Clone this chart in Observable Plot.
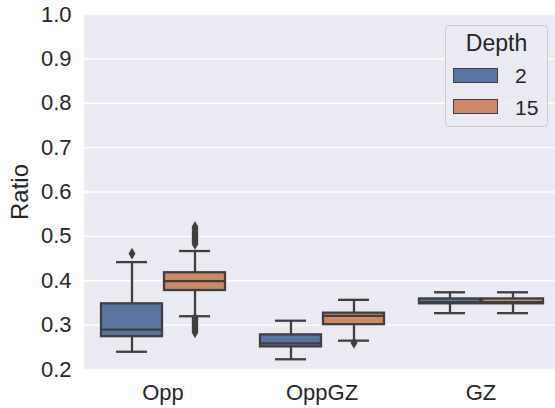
<!DOCTYPE html>
<html>
<head>
<meta charset="utf-8">
<script src="https://cdn.jsdelivr.net/npm/d3@7"></script>
<script src="https://cdn.jsdelivr.net/npm/@observablehq/plot@0.6"></script>
<style>
  html, body { margin: 0; padding: 0; background: #ffffff; overflow: hidden; }
  #wrap { position: relative; width: 560px; height: 408px; }
  #wrap svg { display: block; }
  g[aria-label="y-axis label"] text { font-size: 24px; }
  #legend {
    position: absolute; left: 445px; top: 25px; width: 101px; height: 100px;
    border: 1px solid #cccccc; border-radius: 4px; background: rgba(234,234,242,0.8);
    font-family: "Liberation Sans", Arial, sans-serif; color: #262626; line-height: 1;
  }
  #legend .title { position: absolute; left: 0; width: 101px; top: 6px; text-align: center; font-size: 23px; }
  #legend .sw { position: absolute; left: 7px; width: 43px; height: 13px; border: 1px solid #3f3f3f; }
  #legend .lb { position: absolute; left: 69px; font-size: 21px; }
</style>
</head>
<body>
<div id="wrap"></div>
<script>
// ---- data ----
const categories = ["Opp", "OppGZ", "GZ"];
const depths = ["2", "15"];
const depthColors = ["#5975a4", "#cc8963"];
const yTicks = [0.2, 0.3, 0.4, 0.5, 0.6, 0.7, 0.8, 0.9, 1.0];

// box statistics per category, depth 2
const low2    = [0.240, 0.223, 0.327];
const q1_2    = [0.274, 0.251, 0.348];
const median2 = [0.290, 0.259, 0.352];
const q3_2    = [0.348, 0.278, 0.359];
const high2   = [0.442, 0.310, 0.374];
// depth 15
const low15    = [0.320, 0.265, 0.327];
const q1_15    = [0.378, 0.301, 0.348];
const median15 = [0.399, 0.321, 0.352];
const q3_15    = [0.418, 0.327, 0.359];
const high15   = [0.467, 0.357, 0.374];

// outliers per category
const outliers2  = [[0.461], [], []];
const outliers15 = [
  [0.483, 0.487, 0.491, 0.496, 0.500, 0.505, 0.510, 0.516, 0.521,
   0.284, 0.288, 0.292, 0.296, 0.300, 0.304, 0.308, 0.312, 0.316],
  [0.260],
  []
];

// ---- tables ----
const stats = {
  "2":  {low: low2,  q1: q1_2,  med: median2,  q3: q3_2,  high: high2,  out: outliers2},
  "15": {low: low15, q1: q1_15, med: median15, q3: q3_15, high: high15, out: outliers15}
};
const boxes = [];
const points = [];
categories.forEach((c, i) => {
  depths.forEach(d => {
    const s = stats[d];
    boxes.push({category: c, depth: d, low: s.low[i], q1: s.q1[i], med: s.med[i], q3: s.q3[i], high: s.high[i]});
    s.out[i].forEach(v => points.push({category: c, depth: d, value: v}));
  });
});

const line = "#3f3f3f";
const lw = 2.3;

const chart = Plot.plot({
  width: 560,
  height: 408,
  marginLeft: 83,
  marginRight: 0,
  marginTop: 14,
  marginBottom: 39,
  style: {fontFamily: "'Liberation Sans', Arial, sans-serif", fontSize: "22px", color: "#262626", background: "#ffffff"},
  fx: {domain: categories, padding: 0, label: null, axis: "bottom", tickSize: 0, tickPadding: 15},
  x: {domain: depths, paddingInner: 0, paddingOuter: 0.25, axis: null},
  y: {domain: [0.2, 1.0], ticks: yTicks, tickFormat: d3.format(".1f"), tickSize: 0, tickPadding: 12,
      label: "Ratio", labelAnchor: "center", labelArrow: "none", labelOffset: 73},
  color: {domain: depths, range: depthColors},
  marks: [
    Plot.frame({fill: "#eaeaf2", stroke: null, insetRight: -1, shapeRendering: "crispEdges"}),
    Plot.gridY(yTicks, {stroke: "#ffffff", strokeOpacity: 1, strokeWidth: 1.3}),
    Plot.ruleX(boxes, {fx: "category", x: "depth", y1: "low", y2: "q1", stroke: line, strokeWidth: lw}),
    Plot.ruleX(boxes, {fx: "category", x: "depth", y1: "q3", y2: "high", stroke: line, strokeWidth: lw}),
    Plot.tickY(boxes, {fx: "category", x: "depth", y: "low", stroke: line, strokeWidth: lw, insetLeft: 16, insetRight: 16}),
    Plot.tickY(boxes, {fx: "category", x: "depth", y: "high", stroke: line, strokeWidth: lw, insetLeft: 16, insetRight: 16}),
    Plot.barY(boxes, {fx: "category", x: "depth", y1: "q1", y2: "q3", fill: "depth", stroke: line, strokeWidth: lw, insetLeft: 1, insetRight: 1}),
    Plot.tickY(boxes, {fx: "category", x: "depth", y: "med", stroke: line, strokeWidth: lw, insetLeft: 1, insetRight: 1}),
    Plot.dot(points, {fx: "category", x: "depth", y: "value", symbol: "diamond", r: 3.6, fill: line, stroke: null})
  ]
});

const wrap = document.getElementById("wrap");
wrap.appendChild(chart);

// legend (inside the plot area, top right)
const legend = document.createElement("div");
legend.id = "legend";
const title = document.createElement("div");
title.className = "title";
title.textContent = "Depth";
legend.appendChild(title);
depths.forEach((d, i) => {
  const sw = document.createElement("div");
  sw.className = "sw";
  sw.style.top = (42 + i * 31) + "px";
  sw.style.background = depthColors[i];
  legend.appendChild(sw);
  const lb = document.createElement("div");
  lb.className = "lb";
  lb.style.top = (39 + i * 31.5) + "px";
  lb.textContent = d;
  legend.appendChild(lb);
});
wrap.appendChild(legend);
</script>
</body>
</html>
